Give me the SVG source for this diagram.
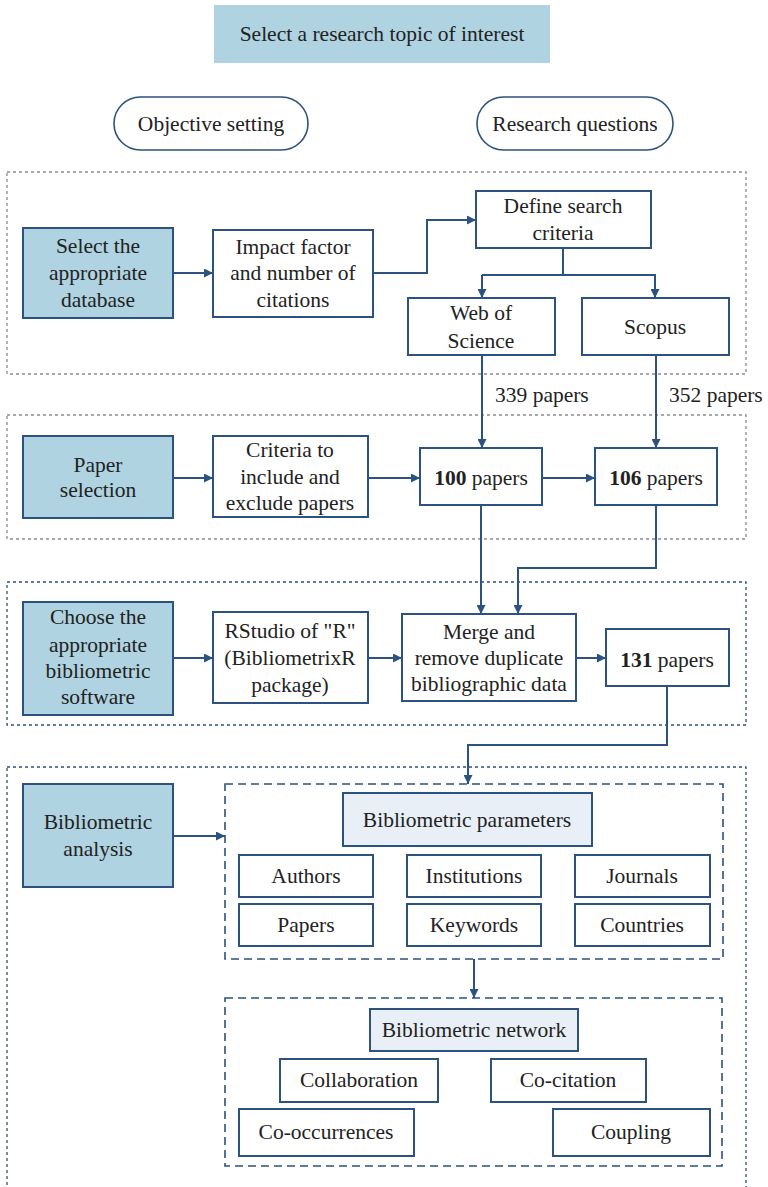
<svg xmlns="http://www.w3.org/2000/svg" width="768" height="1187" viewBox="0 0 768 1187" font-family="'Liberation Serif', 'Times New Roman', serif">
<defs>
<marker id="ah" viewBox="0 0 10 10" refX="10" refY="5" markerWidth="9" markerHeight="9" markerUnits="userSpaceOnUse" orient="auto">
<path d="M0,0 L10,5 L0,10 z" fill="#2b5280"/>
</marker>
</defs>
<style>
text{font-family:'Liberation Serif','Times New Roman',serif;font-size:21.5px;fill:#222;text-anchor:middle}
.box{fill:#fff;stroke:#2b5280;stroke-width:2}
.key{fill:#afd3e0;stroke:#2b5280;stroke-width:2}
.lite{fill:#e8eff6;stroke:#2b5280;stroke-width:2}
.pill{fill:#fff;stroke:#2b5280;stroke-width:1.6}
.gray{fill:none;stroke:#8a8a8a;stroke-width:1.3;stroke-dasharray:3 3}
.dot{fill:none;stroke:#2b5280;stroke-width:1.3;stroke-dasharray:3 3}
.dash{fill:none;stroke:#2b5280;stroke-width:1.6;stroke-dasharray:8 5}
.c{fill:none;stroke:#2b5280;stroke-width:2}
.ca{fill:none;stroke:#2b5280;stroke-width:2;marker-end:url(#ah)}
.lbl{text-anchor:start}
</style>

<g id="frames">
<rect class="gray" x="7" y="172" width="739" height="202"/>
<rect class="gray" x="7" y="415" width="739" height="124"/>
<rect class="dot" x="7" y="582" width="739" height="143"/>
<rect class="dot" x="7" y="767" width="739" height="430"/>
<rect class="dash" x="225" y="784" width="498" height="175"/>
<rect class="dash" x="225" y="998" width="497" height="168"/>
</g>

<g id="connectors">
<path class="ca" d="M173,273 H213"/>
<path class="ca" d="M373,273 H427 V220 H476"/>
<path class="c" d="M563,248 V275"/>
<path class="ca" d="M482,275 H655 V298"/>
<path class="ca" d="M482,275 V298"/>
<path class="ca" d="M482,355 V448"/>
<path class="ca" d="M656,355 V448"/>
<path class="ca" d="M173,478 H213"/>
<path class="ca" d="M368,478 H420"/>
<path class="ca" d="M542,478 H595"/>
<path class="ca" d="M481,505 V614"/>
<path class="ca" d="M656,505 V568 H518 V614"/>
<path class="ca" d="M173,658 H213"/>
<path class="ca" d="M368,658 H402"/>
<path class="ca" d="M576,658 H606"/>
<path class="ca" d="M667,686 V745 H468 V784"/>
<path class="ca" d="M173,836 H225"/>
<path class="ca" d="M474,959 V998"/>
<text class="lbl" x="495" y="402">339 papers</text>
<text class="lbl" x="669" y="402">352 papers</text>
</g>

<g id="n-topic"><rect x="214" y="5" width="336" height="58" fill="#afd3e0"/><text x="382" y="41">Select a research topic of interest</text></g>
<g id="n-objective"><rect class="pill" x="114" y="97" width="194" height="53" rx="26.5"/><text x="211" y="131">Objective setting</text></g>
<g id="n-questions"><rect class="pill" x="477" y="97" width="196" height="53" rx="26.5"/><text x="575" y="131">Research questions</text></g>

<g id="n-database"><rect class="key" x="23" y="228" width="150" height="90"/><text x="98" y="253">Select the</text><text x="98" y="280">appropriate</text><text x="98" y="307">database</text></g>
<g id="n-impact"><rect class="box" x="213" y="230" width="160" height="87"/><text x="293" y="254">Impact factor</text><text x="293" y="280">and number of</text><text x="293" y="307">citations</text></g>
<g id="n-define"><rect class="box" x="476" y="191" width="175" height="57"/><text x="563" y="213">Define search</text><text x="563" y="240">criteria</text></g>
<g id="n-wos"><rect class="box" x="408" y="298" width="147" height="57"/><text x="481" y="320">Web of</text><text x="481" y="348">Science</text></g>
<g id="n-scopus"><rect class="box" x="582" y="298" width="147" height="57"/><text x="655" y="334">Scopus</text></g>

<g id="n-paperselection"><rect class="key" x="23" y="436" width="150" height="82"/><text x="98" y="472">Paper</text><text x="98" y="497">selection</text></g>
<g id="n-criteria"><rect class="box" x="213" y="436" width="155" height="81"/><text x="290" y="457">Criteria to</text><text x="290" y="484">include and</text><text x="290" y="510">exclude papers</text></g>
<g id="n-100"><rect class="box" x="420" y="448" width="122" height="57"/><text x="481" y="485"><tspan font-weight="bold">100</tspan> papers</text></g>
<g id="n-106"><rect class="box" x="595" y="448" width="122" height="57"/><text x="656" y="485"><tspan font-weight="bold">106</tspan> papers</text></g>

<g id="n-software"><rect class="key" x="23" y="602" width="150" height="113"/><text x="98" y="624">Choose the</text><text x="98" y="652">appropriate</text><text x="98" y="678">bibliometric</text><text x="98" y="704">software</text></g>
<g id="n-rstudio"><rect class="box" x="213" y="612" width="155" height="91"/><text x="290" y="638">RStudio of "R"</text><text x="290" y="665">(BibliometrixR</text><text x="290" y="692">package)</text></g>
<g id="n-merge"><rect class="box" x="402" y="614" width="174" height="87"/><text x="489" y="639">Merge and</text><text x="489" y="665">remove duplicate</text><text x="489" y="691">bibliographic data</text></g>
<g id="n-131"><rect class="box" x="606" y="629" width="123" height="57"/><text x="667" y="667"><tspan font-weight="bold">131</tspan> papers</text></g>

<g id="n-analysis"><rect class="key" x="23" y="784" width="150" height="103"/><text x="98" y="829">Bibliometric</text><text x="98" y="856">analysis</text></g>
<g id="n-parameters"><rect class="lite" x="343" y="793" width="249" height="53"/><text x="467" y="827">Bibliometric parameters</text></g>
<g id="n-authors"><rect class="box" x="239" y="855" width="134" height="42"/><text x="306" y="883">Authors</text></g>
<g id="n-institutions"><rect class="box" x="407" y="855" width="134" height="42"/><text x="474" y="883">Institutions</text></g>
<g id="n-journals"><rect class="box" x="575" y="855" width="135" height="42"/><text x="642" y="883">Journals</text></g>
<g id="n-papers"><rect class="box" x="239" y="904" width="134" height="42"/><text x="306" y="932">Papers</text></g>
<g id="n-keywords"><rect class="box" x="407" y="904" width="134" height="42"/><text x="474" y="932">Keywords</text></g>
<g id="n-countries"><rect class="box" x="575" y="904" width="135" height="42"/><text x="642" y="932">Countries</text></g>

<g id="n-network"><rect class="lite" x="370" y="1009" width="208" height="42"/><text x="474" y="1037">Bibliometric network</text></g>
<g id="n-collaboration"><rect class="box" x="280" y="1059" width="158" height="43"/><text x="359" y="1087">Collaboration</text></g>
<g id="n-cocitation"><rect class="box" x="491" y="1059" width="155" height="43"/><text x="568" y="1087">Co-citation</text></g>
<g id="n-cooccurrences"><rect class="box" x="239" y="1109" width="175" height="47"/><text x="326" y="1139">Co-occurrences</text></g>
<g id="n-coupling"><rect class="box" x="553" y="1109" width="157" height="47"/><text x="631" y="1139">Coupling</text></g>
</svg>
